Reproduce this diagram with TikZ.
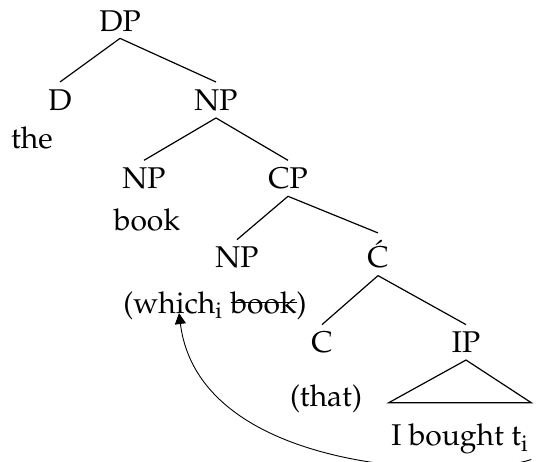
\documentclass[tikz,border=0pt]{standalone}
\usepackage[T1]{fontenc}
\usepackage{mathpazo}
\usetikzlibrary{trees,arrows.meta}
\newsavebox\strikebox
\newcommand{\strike}[1]{\sbox\strikebox{#1}\rlap{\rule[0.32em]{\wd\strikebox}{0.06em}}\usebox\strikebox}
\tikzstyle{every node}=[anchor=base,font=\fontsize{15pt}{18pt}\selectfont]
\tikzstyle{hidden}=[draw=none]
\tikzstyle{roof}=[edge from parent path={(\tikzparentnode.south) -- ([yshift=7pt]\tikzchildnode.north west) -- ([yshift=7pt]\tikzchildnode.north east) -- cycle}]
\tikzstyle{move}=[-{Triangle[length=5.5pt,width=5.5pt]},line width=0.45pt]

\begin{document}
\begin{tikzpicture}[%
  line width=0.6pt,
  edge from parent path={(\tikzparentnode.south) -- (\tikzchildnode.north)},
  level 1/.style={grow via three points={one child at (0pt,-25pt) and
    two children at (-30pt,-44.7pt) and (48pt,-44.7pt)}},
  level 2/.style={grow via three points={one child at (-14pt,-24.2pt) and
    two children at (-36pt,-44.2pt) and (36pt,-44.2pt)}},
  level 3/.style={grow via three points={one child at (1.5pt,-26.2pt) and
    two children at (-25.5pt,-44.7pt) and (45pt,-44.7pt)}},
  level 4/.style={grow via three points={one child at (-11pt,-27.7pt) and
    two children at (-28pt,-49.2pt) and (44pt,-49.2pt)}},
  level 5/.style={grow via three points={one child at (2pt,-31.7pt) and
    two children at (0pt,-31.7pt) and (0pt,-31.7pt)}}]
  \useasboundingbox (-60pt,15.5pt) rectangle (209.5pt,-215pt);
  \node (dp) {DP}
    child { node (d) {D}
      child { node (the) {the} edge from parent[hidden] }
    }
    child { node (np) {NP}
      child { node (npn) {NP}
        child { node (book) {book} edge from parent[hidden] }
      }
      child { node (cp) {CP}
        child { node (npwh) {NP}
          child { node (wh) {(which\textsubscript{i} \strike{book})} edge from parent[hidden] }
        }
        child { node (cbar) {\'C}
          child { node (c) {C}
            child { node (that) {(that)} edge from parent[hidden] }
          }
          child { node (ip) {IP}
            child [roof, grow via three points={one child at (-3pt,-51.7pt) and
              two children at (0pt,-51.7pt) and (0pt,-51.7pt)}] { node (ib) [inner xsep=1pt] {I bought t\textsubscript{i}} }
          }
        }
      }
    };
  % movement of the wh-phrase
  \draw[move] ([yshift=1pt]ib.south east) .. controls +(-29.75pt,-10pt) and +(10.5pt,-82pt) .. ([xshift=-18pt]wh.base);
\end{tikzpicture}
\end{document}
